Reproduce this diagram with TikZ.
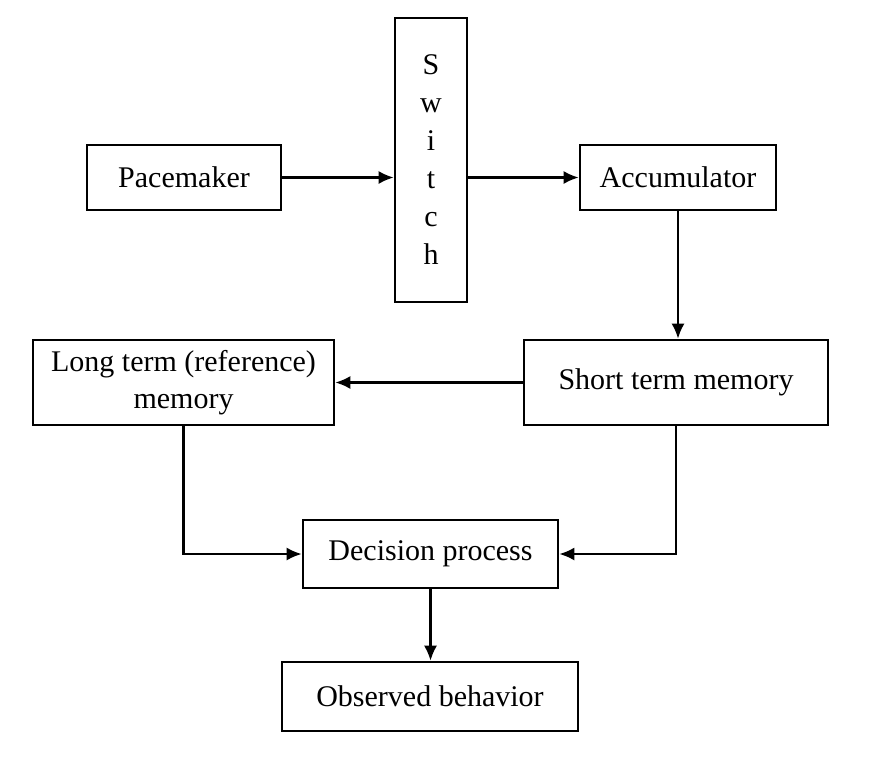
\documentclass[tikz,border=0pt]{standalone}
\usepackage{fontspec}
\setmainfont{Liberation Serif}
\usetikzlibrary{arrows.meta, positioning}

\begin{document}
\begin{tikzpicture}[
      x=0.5pt, y=-0.5pt,
      box/.style={
        rectangle,
        draw,
        line width=1.3pt,
        inner sep=0pt,
        align=center,
        font=\fontsize{15}{18.5}\selectfont
      },
      arr/.style={-{Latex[length=7.5pt, width=6.5pt]}, line width=1.1pt}
    ]
      \useasboundingbox (0,0) rectangle (876,756);

      \node[box, minimum width=97pt, minimum height=32.5pt] (pace) at (184,177.5) {Pacemaker};
      \node[box, minimum width=36pt, minimum height=142pt,
        font=\fontsize{15}{19}\selectfont] (switch) at (431,160) {S\\w\\i\\t\\c\\h};
      \node[box, minimum width=98pt, minimum height=32.5pt] (acc) at (678,177.5) {Accumulator};

      \node[box, minimum width=152pt, minimum height=42.5pt] (stm) at (676,382.5) {Short term memory};
      \node[box, minimum width=150.5pt, minimum height=42.5pt] (ltm) at (183.5,382.5) {Long term (reference)\\memory};

      \node[box, minimum width=127.5pt, minimum height=34pt] (dec) at (430.5,554) {Decision process};
      \node[box, minimum width=148pt, minimum height=34.5pt] (obs) at (430,696.5) {Observed behavior};

      \draw[arr] (pace.east) -- (pace.east -| switch.west);
      \draw[arr] (switch.east |- acc.west) -- (acc.west);
      \draw[arr] (acc.south) -- (acc.south |- stm.north);
      \draw[arr] (stm.west) -- (ltm.east);
      \draw[arr] (ltm.south) |- (dec.west);
      \draw[arr] (stm.south) |- (dec.east);
      \draw[arr] (dec.south) -- (dec.south |- obs.north);
    \end{tikzpicture}
\end{document}
